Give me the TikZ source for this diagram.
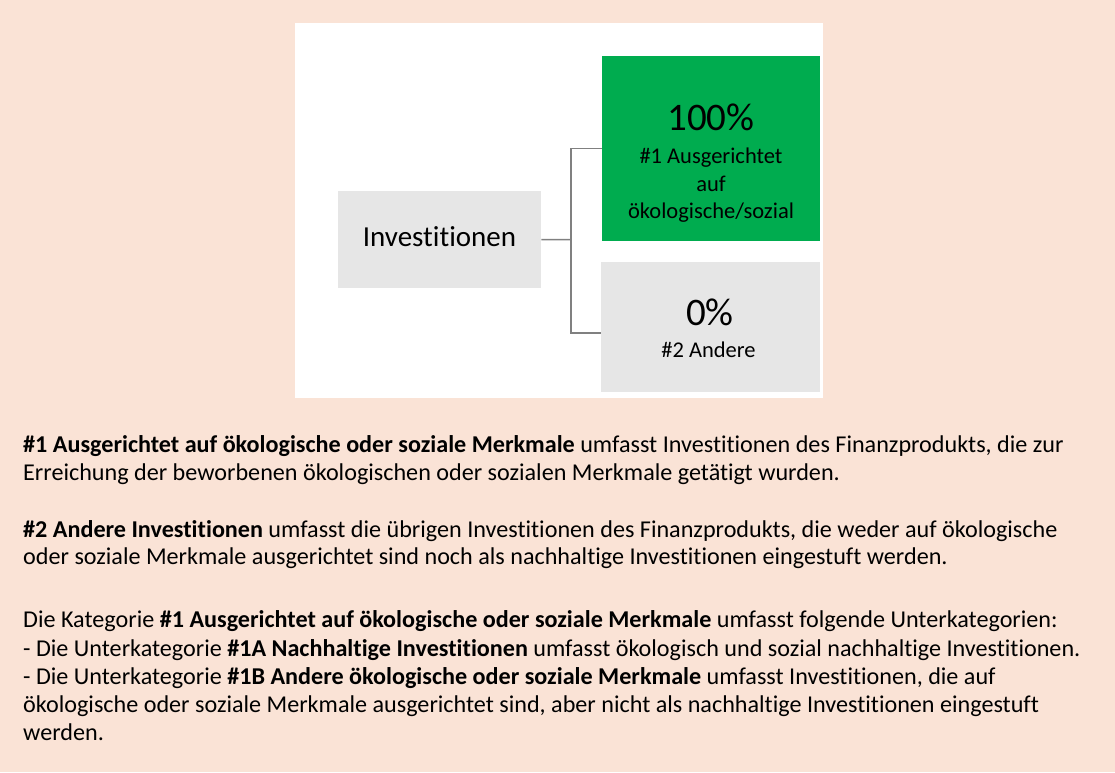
\documentclass[tikz,border=0pt]{standalone}
\usepackage{fontspec}
\setmainfont{Carlito}[Ligatures=NoCommon]
\definecolor{peach}{HTML}{FAE3D6}
\definecolor{boxgray}{HTML}{E6E6E6}
\definecolor{boxgreen}{HTML}{00AC4F}
\definecolor{linegray}{HTML}{808080}
\begin{document}
\begin{tikzpicture}[x=1pt,y=-1pt,
  box/.style={rectangle, draw=none, inner sep=0pt, anchor=north west},
  body/.style={anchor=base west, inner sep=0pt, text=black, font=\fontsize{24.15}{28}\selectfont},
  lblsmall/.style={anchor=base, inner sep=0pt, text=black, font=\fontsize{22.5}{27}\selectfont},
  lblbig/.style={anchor=base, inner sep=0pt, text=black, font=\fontsize{39}{39}\selectfont},
  conn/.style={draw=linegray, line width=1.5pt}]
\useasboundingbox (0,0) rectangle (1115,772);
\fill[peach] (0,0) rectangle (1115,772);
\fill[white] (295,23) rectangle (822.5,397.5);
% boxes
\node[box, fill=boxgray, minimum width=203pt, minimum height=97pt] (inv) at (338,191) {};
\node[box, fill=boxgreen, minimum width=218pt, minimum height=185pt] (green) at (602,56) {};
\node[box, fill=boxgray, minimum width=219pt, minimum height=130pt] (other) at (601,262) {};
% box texts
\node[anchor=base, inner sep=0pt, font=\fontsize{29}{29}\selectfont] (invt) at (439.5,246) {Investitionen};
\node[lblbig] (p100) at (711,130.5) {100\%};
\node[lblsmall] (g1) at (711,163.5) {\#1 Ausgerichtet};
\node[lblsmall] (g2) at (711,191) {auf};
\node[lblsmall] (g3) at (711,218.5) {ökologische/sozial};
\node[lblbig] (p0) at (710,325) {0\%};
\node[lblsmall] (o1) at (708.5,357.5) {\#2 Andere};
% connectors
\coordinate (junc) at (571,239.5);
\draw[conn] (inv.east) -- (junc);
\draw[conn] (junc) |- (green.west);
\draw[conn] (junc) |- ([yshift=-6pt]other.west);
% body text
\node[body] (l1) at (23,452) {\textbf{\#1 Ausgerichtet auf ökologische oder soziale Merkmale} umfasst Investitionen des Finanzprodukts, die zur};
\node[body] (l2) at (23,480) {Erreichung der beworbenen ökologischen oder sozialen Merkmale getätigt wurden.};
\node[body] (l3) at (23,537) {\textbf{\#2 Andere Investitionen} umfasst die übrigen Investitionen des Finanzprodukts, die weder auf ökologische};
\node[body] (l4) at (23,564) {oder soziale Merkmale ausgerichtet sind noch als nachhaltige Investitionen eingestuft werden.};
\node[body] (l5) at (23,627) {Die Kategorie \textbf{\#1 Ausgerichtet auf ökologische oder soziale Merkmale} umfasst folgende Unterkategorien:};
\node[body] (l6) at (23,656) {- Die Unterkategorie \textbf{\#1A Nachhaltige Investitionen} umfasst ökologisch und sozial nachhaltige Investitionen.};
\node[body] (l7) at (23,684) {- Die Unterkategorie \textbf{\#1B Andere ökologische oder soziale Merkmale} umfasst Investitionen, die auf};
\node[body] (l8) at (23,712) {ökologische oder soziale Merkmale ausgerichtet sind, aber nicht als nachhaltige Investitionen eingestuft};
\node[body] (l9) at (23,740) {werden.};
\end{tikzpicture}
\end{document}
